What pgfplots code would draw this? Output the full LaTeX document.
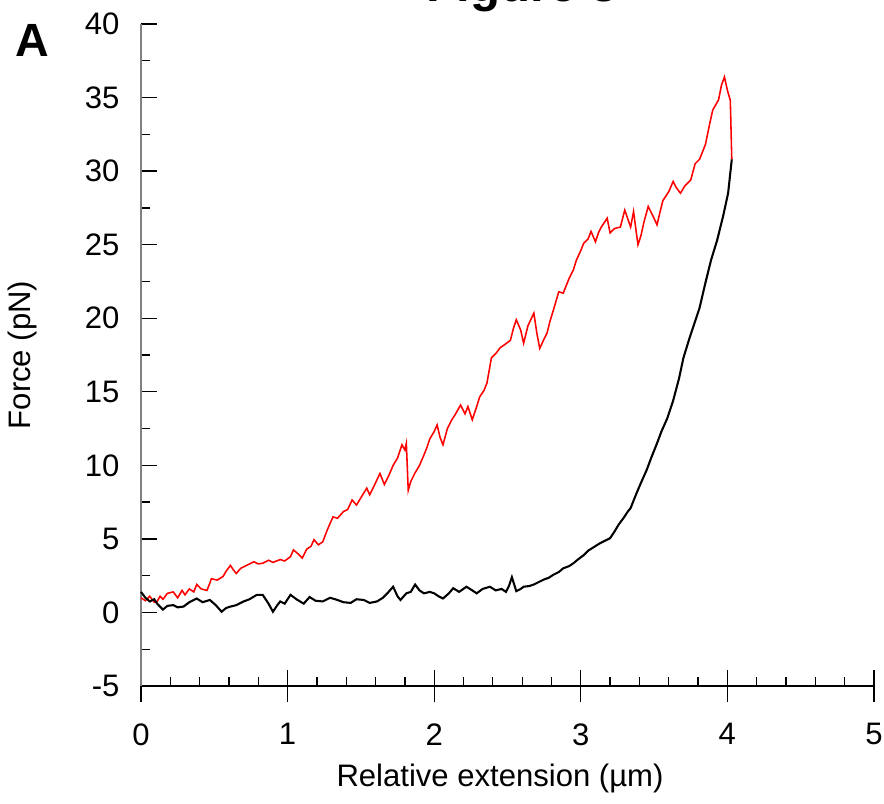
\documentclass[border=0pt]{standalone}
\usepackage{fontspec}
\setmainfont{Liberation Sans}
\usepackage{pgfplots}
\pgfplotsset{compat=1.18}

\pgfplotstableread{
x y
0.00 1.0
0.03 0.8
0.06 1.1
0.09 0.7
0.11 0.75
0.13 1.1
0.15 0.9
0.18 1.3
0.22 1.4
0.25 1.0
0.28 1.5
0.30 1.2
0.33 1.6
0.36 1.4
0.38 1.9
0.41 1.6
0.45 1.5
0.47 2.0
0.48 2.3
0.52 2.2
0.56 2.45
0.58 2.8
0.61 3.2
0.63 2.9
0.65 2.65
0.68 3.0
0.72 3.2
0.77 3.45
0.80 3.3
0.83 3.35
0.87 3.55
0.90 3.4
0.95 3.6
0.98 3.5
1.02 3.8
1.04 4.25
1.07 4.0
1.10 3.7
1.13 4.3
1.16 4.5
1.18 4.95
1.21 4.6
1.24 4.8
1.27 5.6
1.31 6.5
1.34 6.4
1.38 6.85
1.41 7.0
1.44 7.65
1.47 7.3
1.50 7.8
1.54 8.45
1.56 8.0
1.59 8.6
1.63 9.45
1.66 8.7
1.69 9.3
1.72 10.0
1.75 10.5
1.78 11.4
1.80 11.05
1.81 11.5
1.823 8.3
1.84 8.9
1.87 9.5
1.90 10.0
1.93 10.7
1.95 11.2
1.97 11.8
2.00 12.3
2.02 12.75
2.04 11.9
2.06 11.4
2.09 12.5
2.12 13.1
2.14 13.4
2.18 14.1
2.21 13.5
2.23 14.0
2.26 13.1
2.29 14.0
2.31 14.65
2.34 15.1
2.36 15.6
2.39 17.3
2.42 17.6
2.45 18.0
2.48 18.2
2.52 18.5
2.54 19.3
2.56 19.9
2.59 19.2
2.61 18.3
2.64 19.5
2.68 20.35
2.70 19.0
2.72 17.95
2.75 18.6
2.77 19.0
2.79 19.8
2.81 20.45
2.85 21.8
2.88 21.7
2.92 22.7
2.95 23.3
2.97 23.95
3.00 24.6
3.02 25.1
3.05 25.4
3.07 25.9
3.10 25.2
3.12 25.8
3.14 26.2
3.18 26.8
3.20 25.8
3.23 26.1
3.27 26.2
3.30 27.35
3.34 26.2
3.36 27.25
3.39 25.0
3.41 25.6
3.43 26.5
3.46 27.6
3.49 27.0
3.52 26.35
3.54 27.2
3.56 28.0
3.60 28.6
3.63 29.3
3.65 28.9
3.68 28.5
3.71 29.0
3.75 29.4
3.78 30.5
3.81 30.8
3.85 31.8
3.88 33.25
3.90 34.15
3.94 34.85
3.96 35.85
3.98 36.4
4.00 35.5
4.02 34.8
4.03 30.8
}\redcurve

\pgfplotstableread{
x y
0.00 1.4
0.03 1.0
0.06 0.75
0.09 0.9
0.11 0.6
0.15 0.2
0.18 0.45
0.22 0.5
0.25 0.35
0.29 0.4
0.33 0.7
0.38 0.95
0.42 0.7
0.47 0.85
0.51 0.5
0.55 0.05
0.58 0.3
0.61 0.4
0.65 0.5
0.70 0.75
0.74 0.9
0.79 1.2
0.83 1.2
0.87 0.6
0.90 0.05
0.93 0.5
0.95 0.75
0.98 0.6
1.02 1.2
1.06 0.9
1.11 0.6
1.15 1.05
1.19 0.8
1.24 0.75
1.29 1.0
1.34 0.85
1.38 0.7
1.43 0.65
1.47 0.9
1.52 0.85
1.56 0.65
1.61 0.75
1.65 1.0
1.68 1.3
1.72 1.75
1.75 1.1
1.77 0.85
1.81 1.3
1.84 1.4
1.87 1.9
1.90 1.5
1.93 1.3
1.97 1.4
2.00 1.3
2.03 1.1
2.06 0.95
2.10 1.3
2.13 1.65
2.17 1.4
2.22 1.75
2.26 1.5
2.29 1.3
2.33 1.6
2.38 1.75
2.42 1.5
2.46 1.6
2.49 1.4
2.51 1.8
2.53 2.4
2.56 1.45
2.59 1.6
2.61 1.75
2.65 1.8
2.68 1.9
2.72 2.1
2.75 2.25
2.78 2.35
2.81 2.55
2.85 2.75
2.88 3.0
2.92 3.15
2.95 3.35
2.98 3.6
3.02 3.9
3.05 4.2
3.09 4.45
3.13 4.7
3.17 4.9
3.20 5.05
3.23 5.5
3.26 6.0
3.29 6.4
3.32 6.85
3.34 7.1
3.38 8.1
3.41 8.8
3.45 9.7
3.48 10.5
3.52 11.5
3.55 12.3
3.59 13.2
3.63 14.4
3.67 15.9
3.70 17.3
3.74 18.6
3.78 19.8
3.81 20.7
3.85 22.4
3.89 24.0
3.93 25.3
3.97 26.9
4.005 28.5
4.03 30.8
}\blackcurve

\begin{document}
\begin{tikzpicture}
\begin{axis}[
    at={(1.914cm,1.588cm)}, anchor=south west,
    scale only axis, width=9.950cm, height=8.987cm,
    xmin=0, xmax=5, ymin=-5, ymax=40,
    axis lines=left,
    axis line style={-, line width=0.6pt},
    y axis line style={draw=gray, line width=0.9pt},
    xtick={0,1,2,3,4,5},
    ytick={-5,0,5,10,15,20,25,30,35,40},
    minor x tick num=4,
    minor y tick num=1,
    tick align=inside,
    major tick length=0.224cm,
    minor tick length=0.122cm,
    tick style={black, line width=0.5pt},
    extra x ticks={0,1,2,3,4,5},
    extra x tick labels={},
    extra x tick style={tick align=outside, major tick length=0.217cm},
    /pgf/number format/assume math mode=true,
    ticklabel style={font=\fontsize{12}{14}\selectfont, inner sep=0pt},
    yticklabel style={anchor=east, xshift=-0.285cm},
    xticklabel style={anchor=north, yshift=-0.502cm},
    label style={font=\fontsize{12}{14}\selectfont},
    xlabel={Relative extension (µm)},
    ylabel={Force (pN)},
    xlabel style={at={(axis description cs:0.4898,-0.139)}, anchor=center},
    ylabel style={at={(axis description cs:-0.1623,0.5)}, anchor=center},
    clip=false,
]
\addplot[red, line width=0.6pt] table[x=x, y=y] {\redcurve};
\addplot[black, line width=0.8pt] table[x=x, y=y] {\blackcurve};
\end{axis}
\node[font=\fontsize{18}{20}\selectfont\bfseries] at (0.434cm,10.358cm) {A};
\node[font=\fontsize{19}{21}\selectfont\bfseries, anchor=base] at (7.086cm,10.887cm) {Figure 3};
\pgfresetboundingbox
\path[use as bounding box] (0,0) rectangle (12cm,10.901cm);
\end{tikzpicture}
\end{document}
